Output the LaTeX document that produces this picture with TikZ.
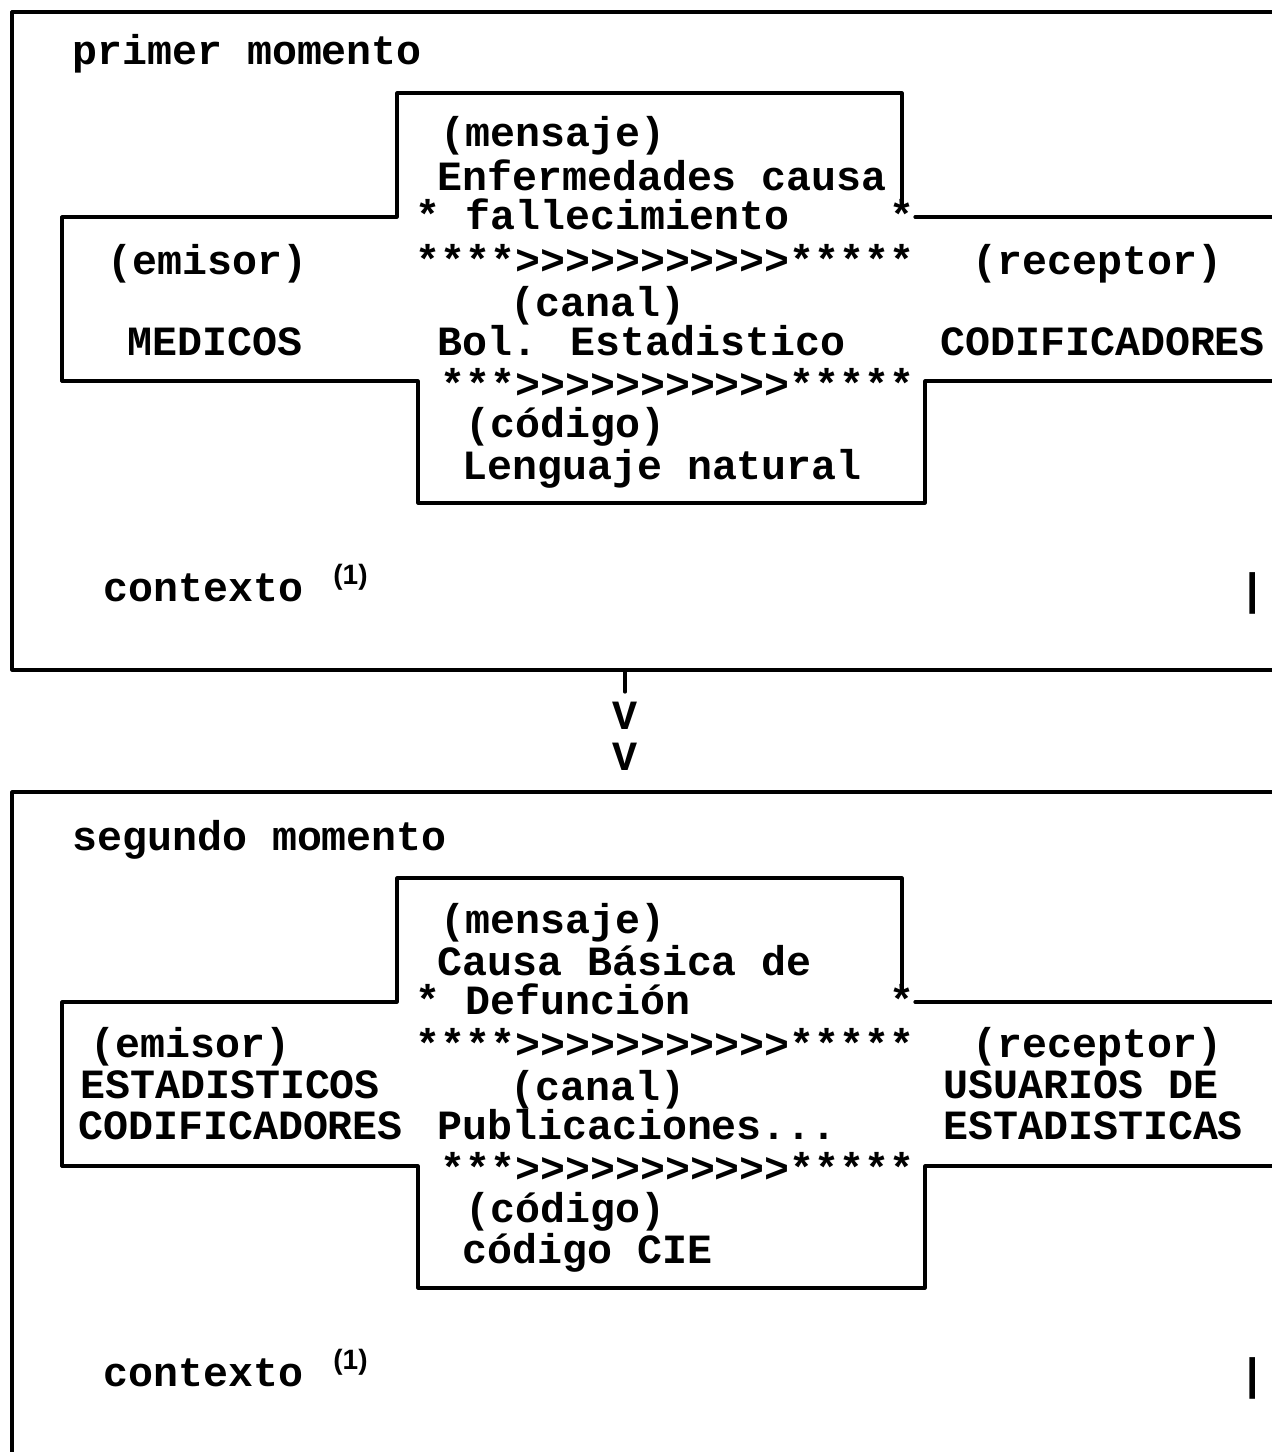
\documentclass[tikz,border=0pt]{standalone}
\usepackage{fontspec}
\newfontfamily\courfont{Liberation Mono}
\newfontfamily\smallsansfont{Liberation Sans}
\begin{document}
\begin{tikzpicture}[x=0.5pt,y=-0.5pt,
  txt/.style={anchor=mid west, inner sep=0pt, font=\courfont\bfseries\fontsize{20.8}{25}\selectfont},
  supx/.style={anchor=mid west, inner sep=0pt, font=\smallsansfont\bfseries\fontsize{14}{16}\selectfont},
  barx/.style={anchor=center, inner sep=0pt, font=\courfont\bfseries\fontsize{22}{25}\selectfont},
  vee/.style={anchor=center, inner sep=0pt, font=\courfont\bfseries\fontsize{20.8}{25}\selectfont},
  frame/.style={line width=1.6pt, line join=round, line cap=round}]
\useasboundingbox (0,0) rectangle (1272,1452);

% ===== primer momento =====
\draw[frame] (1272,12) -- (12,12) -- (12,670) -- (1272,670);
\draw[frame] (62,381) -- (62,217) -- (397,217) -- (397,93) -- (902,93) -- (902,205);
\draw[frame] (915,217) -- (1272,217);
\draw[frame] (62,381) -- (418,381) -- (418,503) -- (925,503) -- (925,381) -- (1272,381);

\node[txt] (t1) at (72,60) {primer momento};
\node[txt] (m1a) at (440,142) {(mensaje)};
\node[txt] (m1b) at (437,186) {Enfermedades causa};
\node[txt] (m1c) at (415,225) {* fallecimiento\ \ \ \ *};
\node[txt] (e1a) at (107,270) {(emisor)};
\node[txt] (s1a) at (415,270) {****>>>>>>>>>>>*****};
\node[txt] (r1a) at (972,270) {(receptor)};
\node[txt] (c1a) at (510,312) {(canal)};
\node[txt] (e1b) at (127,351) {MEDICOS};
\node[txt] (c1b) at (437,351) {Bol. Estadistico};
\node[txt] (r1b) at (940,351) {CODIFICADORES};
\node[txt] (s1b) at (440,394) {***>>>>>>>>>>>*****};
\node[txt] (k1a) at (465,433) {(código)};
\node[txt] (k1b) at (462,475) {Lenguaje natural};
\node[txt] (x1) at (103,597) {contexto};
\node[supx] (x1s) at (333,580) {(1)};
\node[barx] (b1) at (1253,593) {|};

% ===== arrow =====
\coordinate (a0) at (625,670);
\coordinate (a1) at (625,692);
\draw[frame] (a0) -- (a1);
\node[vee] (v1) at (625,716) {V};
\node[vee] (v2) at (625,757) {V};

% ===== segundo momento =====
\draw[frame] (1272,792) -- (12,792) -- (12,1452);
\draw[frame] (62,1166) -- (62,1002) -- (397,1002) -- (397,878) -- (902,878) -- (902,990);
\draw[frame] (915,1002) -- (1272,1002);
\draw[frame] (62,1166) -- (418,1166) -- (418,1288) -- (925,1288) -- (925,1166) -- (1272,1166);

\node[txt] (t2) at (72,846) {segundo momento};
\node[txt] (m2a) at (440,929) {(mensaje)};
\node[txt] (m2b) at (437,971) {Causa Básica de};
\node[txt] (m2c) at (415,1010) {* Defunción\ \ \ \ \ \ \ \ *};
\node[txt] (e2a) at (90,1053) {(emisor)};
\node[txt] (s2a) at (415,1054) {****>>>>>>>>>>>*****};
\node[txt] (r2a) at (972,1053) {(receptor)};
\node[txt] (e2b) at (80,1094) {ESTADISTICOS};
\node[txt] (c2a) at (510,1096) {(canal)};
\node[txt] (r2b) at (943,1094) {USUARIOS DE};
\node[txt] (e2c) at (78,1135) {CODIFICADORES};
\node[txt] (c2b) at (437,1135) {Publicaciones...};
\node[txt] (r2c) at (943,1135) {ESTADISTICAS};
\node[txt] (s2b) at (440,1178) {***>>>>>>>>>>>*****};
\node[txt] (k2a) at (465,1218) {(código)};
\node[txt] (k2b) at (462,1259) {código CIE};
\node[txt] (x2) at (103,1382) {contexto};
\node[supx] (x2s) at (333,1365) {(1)};
\node[barx] (b2) at (1253,1378) {|};
\end{tikzpicture}
\end{document}
